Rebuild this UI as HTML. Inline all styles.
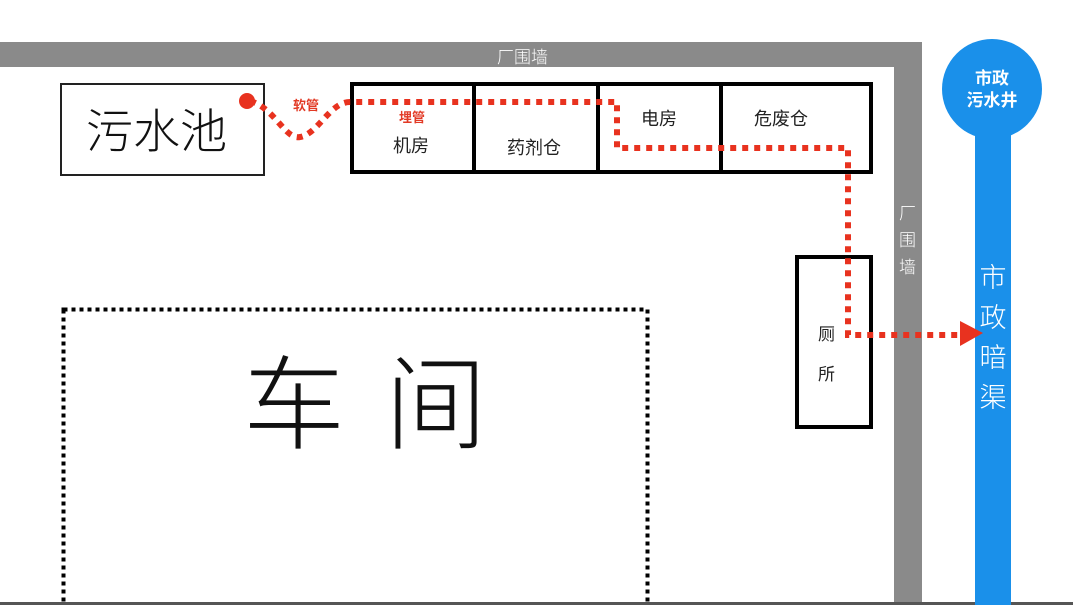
<!DOCTYPE html>
<html><head><meta charset="utf-8"><style>
body{margin:0;width:1073px;height:605px;overflow:hidden;background:#fff;font-family:"Liberation Sans","Noto Sans CJK SC",sans-serif;position:relative}
.a{position:absolute}
.t{position:absolute;white-space:nowrap;font-family:"Noto Sans CJK SC",sans-serif}
</style></head><body>
<div class="a" style="left:0;top:42px;width:922px;height:25px;background:#8a8a8a"></div>
<div class="a" style="left:894px;top:42px;width:28px;height:563px;background:#8a8a8a"></div>
<div class="a" style="left:0;top:602px;width:1073px;height:3px;background:#555"></div>
<div class="t" style="left:497px;top:43px;font-size:17px;color:#fff;font-weight:300">厂围墙</div>
<div class="t" style="left:899px;top:198px;font-size:17px;color:#fff;line-height:27px;width:18px;font-weight:300">厂<br>围<br>墙</div>
<div class="a" style="left:942px;top:39px;width:100px;height:100px;border-radius:50%;background:#1a90ea"></div>
<div class="a" style="left:975px;top:120px;width:36px;height:485px;background:#1a90ea"></div>
<div class="t" style="left:942px;top:66px;width:100px;text-align:center;font-size:17px;line-height:22px;color:#fff;font-weight:bold">市政<br>污水井</div>
<div class="t" style="left:975px;top:256px;width:36px;text-align:center;font-size:27px;line-height:40px;color:#fff;font-weight:300">市<br>政<br>暗<br>渠</div>
<div class="a" style="left:60px;top:83px;width:201px;height:89px;border:2px solid #222"></div>
<div class="t" style="left:86px;top:98px;font-size:47px;line-height:60px;color:#111;font-weight:300">污水池</div>
<div class="a" style="left:350px;top:82px;width:515px;height:84px;border:4px solid #000"></div>
<div class="a" style="left:472px;top:82px;width:4px;height:92px;background:#000"></div>
<div class="a" style="left:596px;top:82px;width:4px;height:92px;background:#000"></div>
<div class="a" style="left:719px;top:82px;width:4px;height:92px;background:#000"></div>
<div class="t" style="left:393px;top:132px;font-size:18px;color:#222">机房</div>
<div class="t" style="left:507px;top:134px;font-size:18px;color:#222">药剂仓</div>
<div class="t" style="left:641px;top:105px;font-size:18px;color:#222">电房</div>
<div class="t" style="left:754px;top:105px;font-size:18px;color:#222">危废仓</div>
<div class="t" style="left:399px;top:107px;font-size:13px;color:#e23a25;font-weight:bold">埋管</div>
<div class="t" style="left:293px;top:95px;font-size:13px;color:#e23a25;font-weight:bold">软管</div>
<div class="a" style="left:795px;top:255px;width:70px;height:166px;border:4px solid #000"></div>
<div class="t" style="left:818px;top:313px;font-size:17px;line-height:40px;color:#222">厕<br>所</div>
<svg class="a" style="left:0;top:0" width="1073" height="605">
<rect x="63.5" y="309.5" width="584" height="310" fill="none" stroke="#000" stroke-width="4" stroke-dasharray="4 4"/>
<path d="M250 101 C275 108,285 140,300 137 C318 134,330 102,350 102 L617 102 L617 148 L848 148 L848 335 L962 335" fill="none" stroke="#e8321f" stroke-width="6" stroke-dasharray="6 6"/>
<circle cx="247" cy="101" r="8" fill="#e8321f"/>
<polygon points="960,321 983,333 960,346" fill="#e8321f"/>
</svg>
<div class="t" style="left:243px;top:333px;font-size:102px;line-height:130px;color:#111;font-weight:300;letter-spacing:40px">车间</div>
</body></html>
